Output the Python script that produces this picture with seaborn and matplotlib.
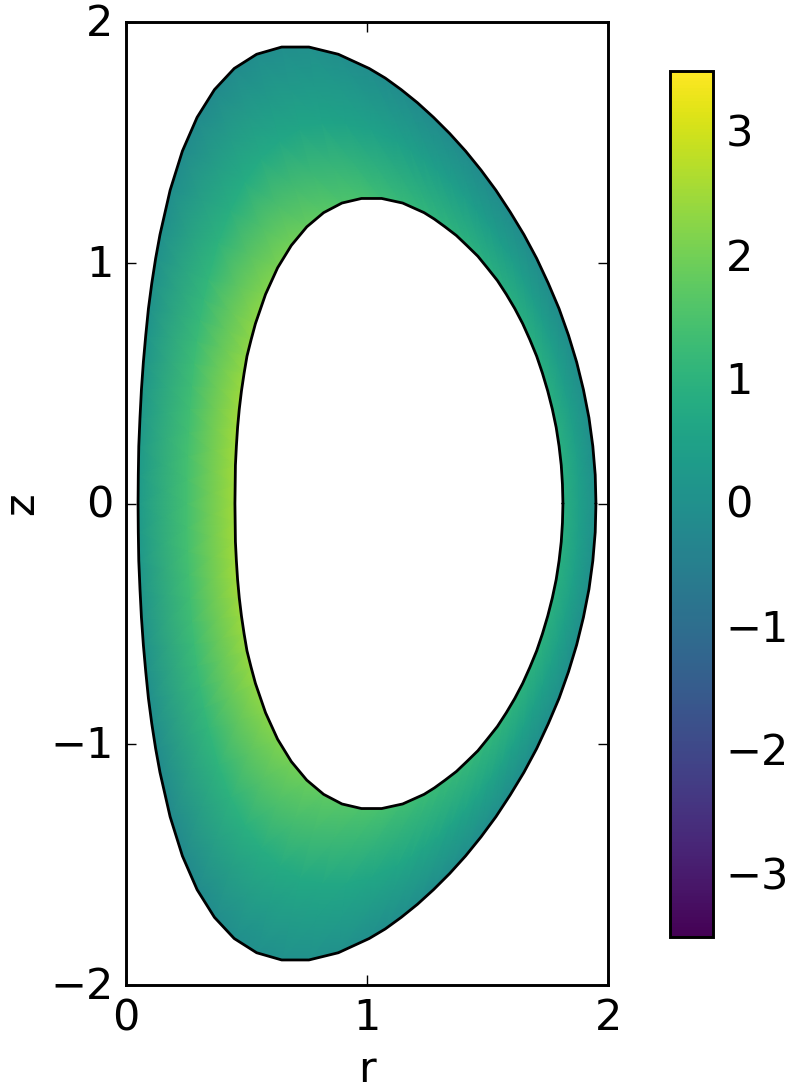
"""Field on a poloidal cross-section, r-z plane, with colorbar."""
import numpy as np
import matplotlib
matplotlib.use("Agg")
import matplotlib.pyplot as plt
import matplotlib.transforms as mtransforms
import seaborn as sns

# annulus boundaries, from z=0 on the right over the top to z=0 on the left
r_outer = [1.950, 1.947, 1.937, 1.921, 1.898, 1.870, 1.836, 1.797, 1.752, 1.704, 1.651, 1.594, 1.535, 1.473,
           1.409, 1.343, 1.276, 1.209, 1.142, 1.076, 1.009, 0.881, 0.759, 0.646, 0.542, 0.449, 0.367,
           0.295, 0.234, 0.183, 0.141, 0.123, 0.107, 0.093, 0.082, 0.072, 0.064, 0.058, 0.053, 0.051, 0.050]
z_outer = [0.000, 0.119, 0.238, 0.356, 0.473, 0.587, 0.699, 0.809, 0.915, 1.018, 1.117, 1.211, 1.301, 1.385,
           1.464, 1.537, 1.604, 1.665, 1.719, 1.767, 1.807, 1.866, 1.896, 1.896, 1.866, 1.807, 1.719,
           1.604, 1.464, 1.301, 1.117, 1.018, 0.915, 0.809, 0.699, 0.587, 0.473, 0.356, 0.238, 0.119, 0.000]
r_inner = [1.813, 1.811, 1.806, 1.797, 1.785, 1.769, 1.750, 1.728, 1.704, 1.676, 1.646, 1.613, 1.578, 1.541,
           1.499, 1.460, 1.414, 1.371, 1.324, 1.280, 1.237, 1.148, 1.061, 0.977, 0.896, 0.820, 0.750,
           0.686, 0.629, 0.579, 0.537, 0.519, 0.502, 0.490, 0.479, 0.470, 0.463, 0.458, 0.454, 0.453, 0.452]
z_inner = [0.000, 0.080, 0.159, 0.238, 0.316, 0.392, 0.467, 0.541, 0.612, 0.680, 0.747, 0.810, 0.869, 0.926,
           0.979, 1.027, 1.072, 1.113, 1.149, 1.181, 1.208, 1.248, 1.267, 1.267, 1.248, 1.208, 1.149,
           1.072, 0.979, 0.869, 0.747, 0.680, 0.612, 0.541, 0.467, 0.392, 0.316, 0.238, 0.159, 0.080, 0.000]

# field read along the same spokes: upper half
top_in = [0.95, 0.95, 0.95, 0.95, 0.95, 0.95, 0.95, 0.95, 0.95, 0.95, 0.95, 0.95, 0.95, 0.95,
          0.95, 0.97, 1.00, 1.02, 1.05, 1.08, 1.10, 1.20, 1.30, 1.45, 1.55, 1.70, 1.85,
          2.00, 2.10, 2.20, 2.30, 2.32, 2.35, 2.40, 2.45, 2.48, 2.50, 2.50, 2.50, 2.50, 2.50]
top_mid = [0.45, 0.45, 0.45, 0.43, 0.42, 0.41, 0.40, 0.40, 0.40, 0.40, 0.40, 0.39, 0.38, 0.38,
           0.38, 0.39, 0.40, 0.41, 0.42, 0.43, 0.45, 0.48, 0.52, 0.58, 0.62, 0.68, 0.75,
           0.82, 0.90, 1.00, 1.10, 1.15, 1.20, 1.25, 1.30, 1.33, 1.36, 1.38, 1.40, 1.41, 1.42]
top_out = [0.00, -0.02, -0.03, -0.04, -0.05, -0.06, -0.08, -0.09, -0.10, -0.10, -0.10, -0.11, -0.12, -0.12,
           -0.12, -0.12, -0.12, -0.11, -0.10, -0.09, -0.08, -0.03, 0.00, -0.03, -0.08, -0.12, -0.15,
           -0.15, -0.13, -0.08, -0.02, 0.02, 0.05, 0.08, 0.12, 0.16, 0.20, 0.22, 0.25, 0.28, 0.30]

# lower half
bot_in = [0.95, 0.95, 0.95, 0.95, 0.95, 0.96, 0.98, 0.99, 1.00, 1.01, 1.02, 1.05, 1.08, 1.10,
          1.12, 1.15, 1.18, 1.20, 1.22, 1.25, 1.28, 1.35, 1.45, 1.55, 1.65, 1.75, 1.90,
          2.05, 2.15, 2.25, 2.35, 2.38, 2.40, 2.42, 2.45, 2.48, 2.50, 2.50, 2.50, 2.50, 2.50]
bot_mid = [0.45, 0.46, 0.48, 0.49, 0.50, 0.50, 0.50, 0.50, 0.50, 0.51, 0.52, 0.53, 0.55, 0.56,
           0.58, 0.59, 0.60, 0.61, 0.62, 0.63, 0.63, 0.65, 0.68, 0.70, 0.73, 0.78, 0.85,
           0.93, 1.00, 1.06, 1.12, 1.16, 1.20, 1.24, 1.28, 1.32, 1.35, 1.38, 1.40, 1.41, 1.42]
bot_out = [0.00, -0.01, -0.02, -0.02, -0.03, -0.04, -0.05, -0.05, -0.06, -0.07, -0.08, -0.08, -0.08, -0.08,
           -0.08, -0.07, -0.06, -0.05, -0.05, -0.04, -0.03, 0.00, 0.00, 0.00, -0.02, -0.05, -0.10,
           -0.15, -0.18, -0.18, -0.15, -0.12, -0.08, -0.04, 0.00, 0.05, 0.10, 0.15, 0.20, 0.25, 0.30]

x_ticks = [0, 1, 2]
y_ticks = [-2, -1, 0, 1, 2]
cbar_ticks = [-3, -2, -1, 0, 1, 2, 3]


def full_loop(upper, lower):
    # closed loop: over the top, then back along the bottom
    return np.concatenate([upper, np.asarray(lower)[::-1][1:]])


sns.set_style("white")
plt.rcParams["font.family"] = ["DejaVu Sans"]
plt.rcParams["font.size"] = 31
plt.rcParams["axes.linewidth"] = 2.1
plt.rcParams["axes.edgecolor"] = "black"
plt.rcParams["xtick.direction"] = "in"
plt.rcParams["ytick.direction"] = "in"
plt.rcParams["ytick.alignment"] = "center"
plt.rcParams["xtick.color"] = "black"
plt.rcParams["ytick.color"] = "black"
plt.rcParams["text.color"] = "black"
plt.rcParams["axes.labelcolor"] = "black"

r_out = full_loop(r_outer, r_outer)
z_out = full_loop(z_outer, -np.array(z_outer))
r_in = full_loop(r_inner, r_inner)
z_in = full_loop(z_inner, -np.array(z_inner))

R = np.vstack([r_in, 0.5 * (r_in + r_out), r_out])
Z = np.vstack([z_in, 0.5 * (z_in + z_out), z_out])
C = np.vstack([full_loop(top_in, bot_in), full_loop(top_mid, bot_mid), full_loop(top_out, bot_out)])

fig = plt.figure(figsize=(7.9, 10.92), dpi=100)
ax = fig.add_axes([126 / 790, 1 - 985 / 1092, 482 / 790, 963 / 1092])
cax = fig.add_axes([670 / 790, 1 - 937 / 1092, 43 / 790, 866 / 1092])

cmap = sns.color_palette("viridis", as_cmap=True)
mesh = ax.pcolormesh(R, Z, C, shading="gouraud", cmap=cmap, vmin=-3.5, vmax=3.5)
ax.plot(r_out, z_out, color="black", lw=2.0)
ax.plot(r_in, z_in, color="black", lw=2.0)

ax.set_xlim(0, 2)
ax.set_ylim(-2, 2)
ax.set_xticks(x_ticks)
ax.set_yticks(y_ticks)
ax.tick_params(axis="both", length=7.5, width=1.0, top=True, right=True, bottom=True, left=True, pad=9)
ax.set_xlabel("r", labelpad=7)
ax.set_ylabel("z", labelpad=6)

cbar = fig.colorbar(mesh, cax=cax)
cbar.set_ticks(cbar_ticks)
cbar.ax.tick_params(direction="in", length=7.5, width=1.0, color="black", pad=9, right=True, left=False)
cbar.outline.set_linewidth(2.1)
cbar.outline.set_edgecolor("black")

# y tick labels sit a little lower than plain centre alignment
nudge = mtransforms.ScaledTranslation(0, -2 / 100, fig.dpi_scale_trans)
for label in ax.get_yticklabels() + cbar.ax.get_yticklabels():
    label.set_transform(label.get_transform() + nudge)

fig.savefig("out.png", dpi=100)
